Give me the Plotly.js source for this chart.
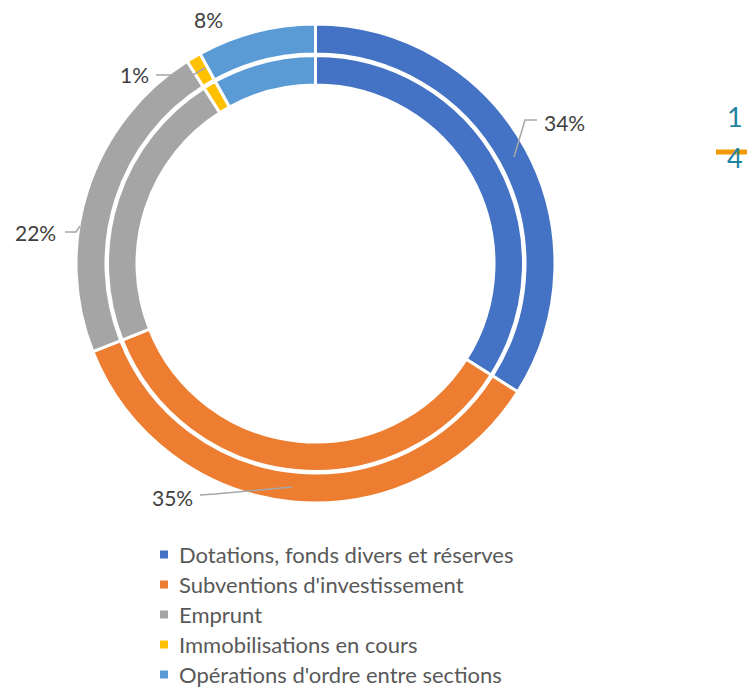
<!DOCTYPE html>
<html>
<head>
<meta charset="utf-8">
<script src="https://cdn.plot.ly/plotly-3.0.1.min.js"></script>
<style>html,body{margin:0;padding:0;background:#fff;}#chart{width:747px;height:689px;}</style>
</head>
<body>
<div id="chart"></div>
<script>
// ---- data ----
const categories = [
  "Dotations, fonds divers et réserves",
  "Subventions d'investissement",
  "Emprunt",
  "Immobilisations en cours",
  "Opérations d'ordre entre sections"
];
const outerValues = [34, 35, 22, 1, 8];
const innerValues = [34, 35, 22, 1, 8];
const colors = ["#4472C4", "#ED7D31", "#A5A5A5", "#FFC000", "#5B9BD5"];
const stray1 = "1";
const stray2 = "4";

// ---- layout helpers ----
const W = 747, H = 689;
const px = x => x / W;
const py = y => 1 - y / H;
const cx = 315.5, cy = 263.5;
function dom(r) {
  return { x: [px(cx - r), px(cx + r)], y: [py(cy + r), py(cy - r)] };
}

const common = {
  type: "pie", sort: false, direction: "clockwise", rotation: 0,
  textinfo: "none", hoverinfo: "label+percent", showlegend: false,
  marker: { colors: colors, line: { color: "#FFFFFF", width: 3 } }
};
const outer = Object.assign({}, common, {
  labels: categories, values: outerValues, domain: dom(239.5), hole: 209.5 / 239.5
});
const inner = Object.assign({}, common, {
  labels: categories, values: innerValues, domain: dom(208), hole: 178.5 / 208
});

// percent label positions (pixel) and leader lines
const total = outerValues.reduce((a, b) => a + b, 0);
const labelPos = [[564, 122], [172, 497], [35, 233], [134, 75], [208, 19]];
const leaders = [
  [[537, 120], [525, 120], [514, 157]],
  [[200, 495], [215, 494], [292, 487]],
  [[65, 232], [76, 232], [80, 226]],
  [[156, 75], [193, 75], [205, 68]],
  null
];

const annotations = [];
const shapes = [];
const fontFam = "Lato, 'Open Sans', sans-serif";
outerValues.forEach((v, i) => {
  annotations.push({
    xref: "paper", yref: "paper", x: px(labelPos[i][0]), y: py(labelPos[i][1]),
    text: Math.round(v / total * 100) + "%", showarrow: false,
    xanchor: "center", yanchor: "middle",
    font: { family: fontFam, size: 21, color: "#404040" }
  });
  if (leaders[i]) {
    const p = leaders[i];
    let path = "M " + px(p[0][0]) + " " + py(p[0][1]);
    for (let k = 1; k < p.length; k++) path += " L " + px(p[k][0]) + " " + py(p[k][1]);
    shapes.push({ type: "path", xref: "paper", yref: "paper", path: path,
      line: { color: "#A6A6A6", width: 1.5 } });
  }
});

// legend (manual)
const legendY0 = 554.5, legendStep = 30;
categories.forEach((c, i) => {
  const y = legendY0 + i * legendStep;
  shapes.push({ type: "rect", xref: "paper", yref: "paper",
    x0: px(160), x1: px(168), y0: py(y - 4), y1: py(y + 4),
    fillcolor: colors[i], line: { width: 0 } });
  annotations.push({ xref: "paper", yref: "paper", x: px(178), y: py(y),
    text: c, showarrow: false, xanchor: "left", yanchor: "middle", borderpad: 0,
    font: { family: fontFam, size: 22, color: "#595959" } });
});

// stray clipped elements at right edge
shapes.push({ type: "line", xref: "paper", yref: "paper",
  x0: px(716), x1: px(747), y0: py(152), y1: py(152),
  line: { color: "#F39A00", width: 5 } });
annotations.push({ xref: "paper", yref: "paper", x: px(735), y: py(117),
  text: stray1, showarrow: false, xanchor: "center", yanchor: "middle",
  font: { family: fontFam, size: 27, color: "#1F84A0" } });
annotations.push({ xref: "paper", yref: "paper", x: px(735), y: py(157),
  text: stray2, showarrow: false, xanchor: "center", yanchor: "middle",
  font: { family: fontFam, size: 27, color: "#1F84A0" } });

const layout = {
  width: W, height: H, margin: { l: 0, r: 0, t: 0, b: 0 },
  paper_bgcolor: "#FFFFFF", plot_bgcolor: "#FFFFFF",
  showlegend: false, annotations: annotations, shapes: shapes
};
Plotly.newPlot("chart", [outer, inner], layout, { displayModeBar: false, staticPlot: true });
</script>
</body>
</html>
